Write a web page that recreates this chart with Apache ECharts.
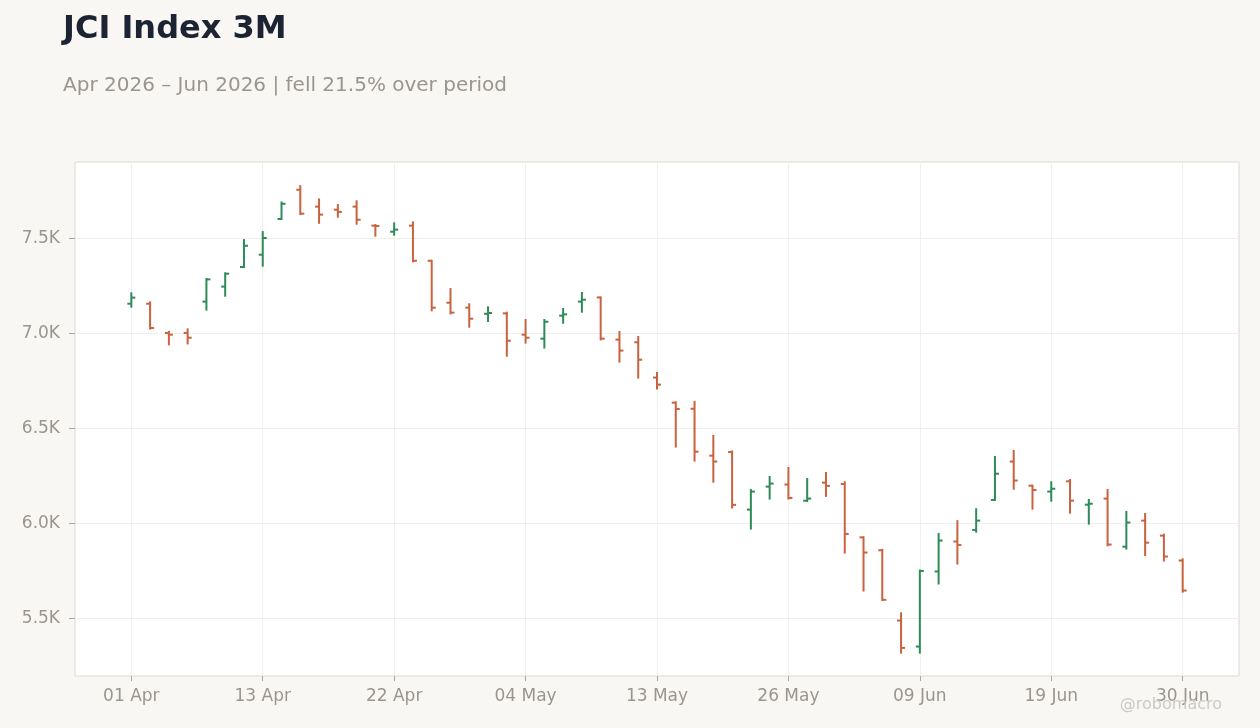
<!DOCTYPE html>
<html>
<head>
<meta charset="utf-8">
<title>JCI Index 3M</title>
<script src="https://cdn.jsdelivr.net/npm/echarts@6/dist/echarts.min.js"></script>
<style>
    html, body { margin: 0; padding: 0; background: #f8f7f4; }
    #chart { width: 1260px; height: 728px; }
</style>
</head>
<body>
<div id="chart"></div>
<script>
// trading days, Apr - Jun 2026
var dates = [
    "2026-04-01", "2026-04-02", "2026-04-06", "2026-04-07", "2026-04-08", "2026-04-09", "2026-04-10",
    "2026-04-13", "2026-04-14", "2026-04-15", "2026-04-16", "2026-04-17", "2026-04-20", "2026-04-21",
    "2026-04-22", "2026-04-23", "2026-04-24", "2026-04-27", "2026-04-28", "2026-04-29", "2026-04-30",
    "2026-05-04", "2026-05-05", "2026-05-06", "2026-05-07", "2026-05-08", "2026-05-11", "2026-05-12",
    "2026-05-13", "2026-05-18", "2026-05-19", "2026-05-20", "2026-05-21", "2026-05-22", "2026-05-25",
    "2026-05-26", "2026-05-29", "2026-06-02", "2026-06-03", "2026-06-04", "2026-06-05", "2026-06-08",
    "2026-06-09", "2026-06-10", "2026-06-11", "2026-06-12", "2026-06-15", "2026-06-17", "2026-06-18",
    "2026-06-19", "2026-06-22", "2026-06-23", "2026-06-24", "2026-06-25", "2026-06-26", "2026-06-29",
    "2026-06-30"
];
var opens = [
    7156, 7156, 7002, 7002, 7167, 7246, 7349, 7414, 7602, 7756, 7667, 7651, 7667, 7567,
    7535, 7567, 7382, 7161, 7135, 7103, 7105, 6993, 6972, 7093, 7167, 7189, 6967, 6953,
    6767, 6635, 6603, 6356, 6375, 6072, 6193, 6204, 6119, 6214, 6207, 5926, 5858, 5488,
    5351, 5746, 5904, 5965, 6123, 6325, 6198, 6167, 6221, 6098, 6130, 5877, 6014, 5935,
    5804
];
var highs = [
    7211, 7163, 7008, 7021, 7286, 7316, 7491, 7533, 7689, 7775, 7705, 7675, 7695, 7570,
    7579, 7584, 7382, 7233, 7153, 7137, 7109, 7070, 7070, 7128, 7212, 7189, 7007, 6981,
    6791, 6637, 6639, 6460, 6378, 6175, 6244, 6291, 6233, 6265, 6216, 5926, 5860, 5526,
    5751, 5944, 6011, 6074, 6349, 6381, 6198, 6216, 6228, 6123, 6175, 6060, 6049, 5940,
    5810
];
var lows = [
    7140, 7025, 6942, 6947, 7125, 7198, 7349, 7356, 7602, 7628, 7582, 7614, 7577, 7514,
    7519, 7379, 7121, 7105, 7035, 7065, 6882, 6951, 6925, 7056, 7114, 6968, 6851, 6767,
    6709, 6404, 6330, 6219, 6083, 5972, 6130, 6130, 6117, 6144, 5846, 5646, 5596, 5319,
    5319, 5683, 5788, 5956, 6123, 6182, 6077, 6119, 6056, 5998, 5884, 5867, 5833, 5804,
    5640
];
var closes = [
    7188, 7028, 6993, 6977, 7284, 7314, 7461, 7502, 7682, 7630, 7625, 7639, 7598, 7565,
    7546, 7382, 7135, 7109, 7077, 7107, 6961, 6977, 7061, 7100, 7177, 6972, 6909, 6861,
    6730, 6602, 6377, 6325, 6097, 6167, 6209, 6133, 6130, 6197, 5944, 5846, 5597, 5344,
    5749, 5909, 5886, 6014, 6261, 6225, 6175, 6182, 6119, 6103, 5888, 6004, 5898, 5825,
    5646
];
var yTicks = [5500, 6000, 6500, 7000, 7500];
var xTicks = [0, 7, 14, 21, 28, 35, 42, 49, 56];

var months = ["Jan", "Feb", "Mar", "Apr", "May", "Jun", "Jul", "Aug", "Sep", "Oct", "Nov", "Dec"];
var upColor = "#2e8b57";
var downColor = "#c8623f";
var labelColor = "#9a958f";

function dateLabel(i) {
    var d = dates[i];
    if (!d) return "";
    var parts = d.split("-");
    return parts[2] + " " + months[Number(parts[1]) - 1];
}

// [index, open, high, low, close]
var ohlc = [];
for (var i = 0; i < dates.length; i++) {
    ohlc.push([i, opens[i], highs[i], lows[i], closes[i]]);
}

function renderBar(params, api) {
    var x = api.value(0);
    var o = api.coord([x, api.value(1)]);
    var h = api.coord([x, api.value(2)]);
    var l = api.coord([x, api.value(3)]);
    var c = api.coord([x, api.value(4)]);
    var color = api.value(4) >= api.value(1) ? upColor : downColor;
    var w = 4;
    var style = { stroke: color, lineWidth: 2 };
    return {
        type: "group",
        children: [
            { type: "line", shape: { x1: h[0], y1: h[1] - 1, x2: l[0], y2: l[1] + 1 }, style: style },
            { type: "line", shape: { x1: o[0] - w, y1: o[1], x2: o[0], y2: o[1] }, style: style },
            { type: "line", shape: { x1: c[0], y1: c[1], x2: c[0] + w, y2: c[1] }, style: style }
        ]
    };
}

var chart = echarts.init(document.getElementById("chart"));
var option = {
    backgroundColor: "#f8f7f4",
    animation: false,
    textStyle: { fontFamily: "DejaVu Sans" },
    title: [{
        text: "JCI Index 3M",
        left: 63,
        top: 14,
        padding: 0,
        textStyle: { fontSize: 32, lineHeight: 32, fontWeight: "bold", color: "#1c2333", fontFamily: "DejaVu Sans" }
    }, {
        text: "Apr 2026 \u2013 Jun 2026 | fell 21.5% over period",
        left: 63,
        top: 76,
        padding: 0,
        textStyle: { fontSize: 20, lineHeight: 20, fontWeight: "normal", color: labelColor, fontFamily: "DejaVu Sans" }
    }],
    graphic: [{
        type: "text",
        style: {
            x: 1222, y: 705,
            text: "@robomacro",
            align: "right",
            verticalAlign: "middle",
            fontSize: 16,
            fontFamily: "DejaVu Sans",
            fill: "#cdcac5"
        },
        z: 100
    }],
    grid: {
        left: 75,
        right: 21,
        top: 162,
        bottom: 52,
        show: true,
        backgroundColor: "#ffffff",
        borderColor: "#ddd8d0",
        borderWidth: 1
    },
    xAxis: {
        type: "value",
        min: -3,
        max: 59,
        axisLine: { show: false, onZero: false },
        axisTick: { show: true, length: 5, customValues: xTicks, lineStyle: { color: "#aaa59f" } },
        axisLabel: {
            customValues: xTicks,
            color: labelColor,
            fontSize: 17,
            margin: 12,
            formatter: function (v) { return dateLabel(v); }
        },
        splitLine: { show: true, lineStyle: { color: "#f0efed" } }
    },
    yAxis: {
        type: "value",
        min: 5196,
        max: 7902,
        axisLine: { show: false, onZero: false },
        axisTick: { show: true, length: 6, customValues: yTicks, lineStyle: { color: "#aaa59f" } },
        axisLabel: {
            customValues: yTicks,
            color: labelColor,
            fontSize: 17,
            margin: 15,
            formatter: function (v) { return (v / 1000).toFixed(1) + "K"; }
        },
        splitLine: { show: true, lineStyle: { color: "#f0efed" } }
    },
    series: [{
        type: "custom",
        name: "JCI",
        renderItem: renderBar,
        encode: { x: 0, y: [1, 2, 3, 4] },
        data: ohlc,
        clip: true
    }]
};
chart.setOption(option);
</script>
</body>
</html>
